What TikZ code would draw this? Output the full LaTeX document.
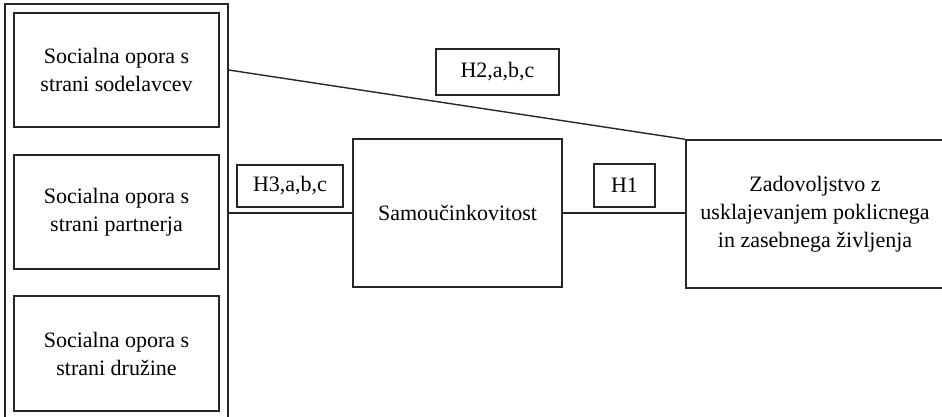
\documentclass[tikz,border=0pt]{standalone}
\usepackage{fontspec}
\setmainfont{Liberation Serif}
\usetikzlibrary{positioning,calc}

\begin{document}
\begin{tikzpicture}[
  x=0.5pt, y=-0.5pt,
  box/.style={rectangle, draw=black!85, line width=0.7pt, align=center,
              font=\fontsize{11}{14}\selectfont, inner sep=0pt,
              minimum width=#1},
  box/.default=102.5pt,
  hyp/.style={rectangle, draw=black!85, line width=0.7pt,
              font=\fontsize{11}{14}\selectfont, inner sep=0pt},
  ln/.style={line width=0.7pt, black!85},
]
\useasboundingbox (0,0) rectangle (942,417);

\node[box=111.5pt, minimum height=208pt] (outer) at (116.5,212) {};
\node[box, minimum height=57pt]   (sodel) at (116.5,70)    {Socialna opora s\\strani sodelavcev};
\node[box, minimum height=57pt]   (partn) at (116.5,212)   {Socialna opora s\\strani partnerja};
\node[box, minimum height=57.5pt] (druz)  at (116.5,353.5) {Socialna opora s\\strani družine};

\node[box=104.5pt, minimum height=74pt] (samo) at (457.5,213) {Samoučinkovitost};
\node[box=129pt, minimum height=74pt]   (zad)  at (815,214)
    {Zadovoljstvo z\\usklajevanjem poklicnega\\in zasebnega življenja};

\node[hyp, minimum width=61.5pt, minimum height=23pt] (h2) at (497.5,72)  {H2,a,b,c};
\node[hyp, minimum width=53pt,   minimum height=21pt] (h3) at (290,186)   {H3,a,b,c};
\node[hyp, minimum width=30.5pt, minimum height=21.5pt] (h1) at (624.5,185.5) {H1};

\draw[ln] (outer.east |- sodel) -- (zad.north west);
\draw[ln] (samo.west -| outer.east) -- (samo.west);
\draw[ln] (samo.east) -- (samo.east -| zad.west);
\end{tikzpicture}
\end{document}
